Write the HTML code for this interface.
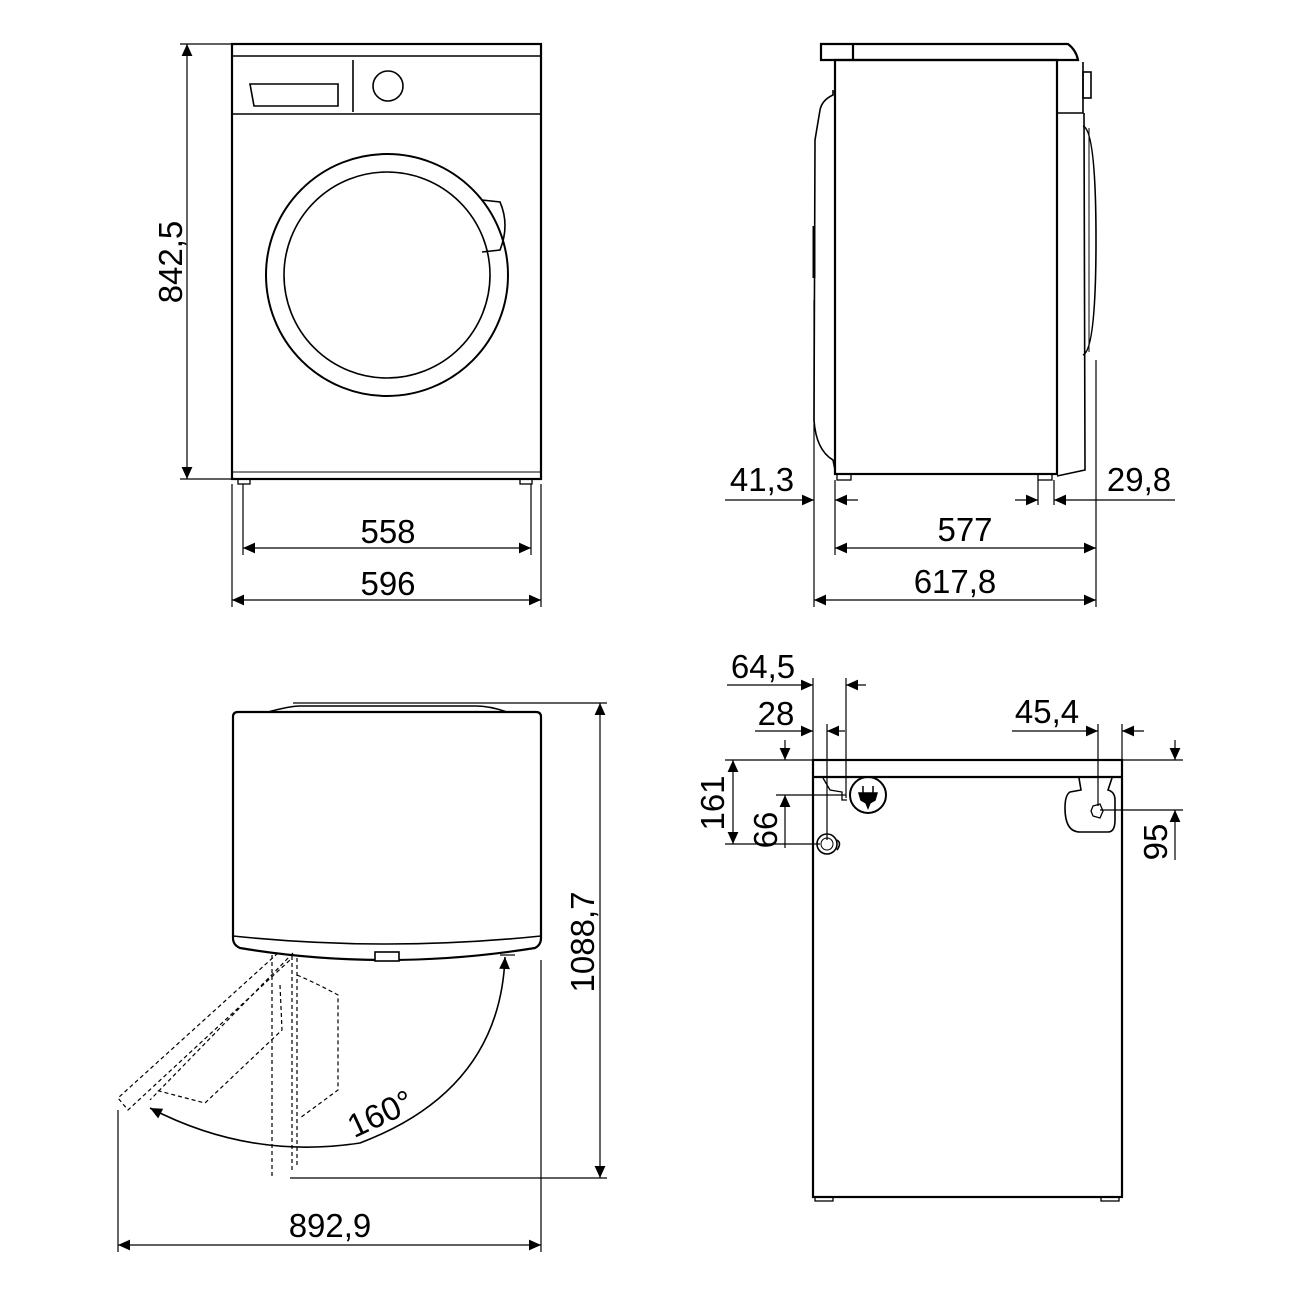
<!DOCTYPE html>
<html><head><meta charset="utf-8"><style>html,body{margin:0;padding:0;background:#fff}svg{display:block}</style></head><body>
<svg width="1300" height="1300" viewBox="0 0 1300 1300" xmlns="http://www.w3.org/2000/svg" font-family="Liberation Sans, sans-serif">
<defs>
<marker id="a" viewBox="0 0 10 10" refX="10" refY="5" markerWidth="20" markerHeight="12" markerUnits="userSpaceOnUse" orient="auto-start-reverse"><path d="M0,0.5 L10,5 L0,9.5 Z" fill="#000"/></marker>
</defs>
<g fill="none" stroke="#000" stroke-width="2.2">
<!-- FRONT VIEW -->
<rect x="232" y="44" width="309" height="435"/>
<line x1="232" y1="56" x2="541" y2="56" stroke-width="1.4"/>
<line x1="232" y1="114" x2="541" y2="114" stroke-width="1.6"/>
<line x1="353" y1="60" x2="353" y2="112" stroke-width="1.6"/>
<path d="M250 84 L338 84 L338 106 L254 106 Z" stroke-width="1.6"/>
<circle cx="388" cy="86" r="15" stroke-width="1.6"/>
<circle cx="387" cy="275" r="121" stroke-width="2"/>
<circle cx="387" cy="275" r="103" stroke-width="1.6"/>
<path d="M482 200 L500 202 Q510 225 500 250 L482 252" stroke-width="1.6"/>
<line x1="232" y1="472" x2="541" y2="472" stroke-width="1"/>
<rect x="238" y="479" width="12" height="5" stroke-width="1.3"/>
<rect x="520" y="479" width="12" height="5" stroke-width="1.3"/>
</g>
<g stroke="#000" stroke-width="1.2" fill="none">
<line x1="180" y1="44" x2="232" y2="44"/><line x1="180" y1="479" x2="232" y2="479"/>
<line x1="232" y1="484" x2="232" y2="607"/><line x1="541" y1="484" x2="541" y2="607"/>
<line x1="243" y1="484" x2="243" y2="555"/><line x1="531" y1="484" x2="531" y2="555"/>
<line x1="187" y1="44" x2="187" y2="479" marker-start="url(#a)" marker-end="url(#a)"/>
<line x1="243" y1="548" x2="531" y2="548" marker-start="url(#a)" marker-end="url(#a)"/>
<line x1="232" y1="600" x2="541" y2="600" marker-start="url(#a)" marker-end="url(#a)"/>
</g>
<g font-size="33" fill="#000">
<text x="388" y="543" text-anchor="middle">558</text>
<text x="388" y="595" text-anchor="middle">596</text>
<text transform="translate(182,262) rotate(-90)" text-anchor="middle">842,5</text>
</g>

<!-- SIDE VIEW -->
<g fill="none" stroke="#000" stroke-width="2.2">
<path d="M821 44 L1068 44 Q1076 50 1078 60 L821 60 Z"/>
<line x1="853" y1="44" x2="853" y2="60"/>
<rect x="835" y="60" width="222" height="414"/>
<path d="M1057 113 L1083 113 L1083 62" stroke-width="1.6"/>
<rect x="1083" y="72" width="8" height="26" stroke-width="1.6"/>
<path d="M1083 126 Q1096 130 1096 240 Q1096 350 1083 355" stroke-width="1.6"/>
<line x1="1089" y1="128" x2="1089" y2="352" stroke-width="1"/>
<path d="M1084 113 L1085 470 L1057 476" stroke-width="1.6"/>
<path d="M833 90 L833 95 Q822 100 820 110 L815 140 L814 420 Q816 450 833 460 L835 470" stroke-width="1.6"/>
<line x1="814" y1="226" x2="814" y2="278" stroke-width="3"/>
<rect x="837" y="474" width="14" height="6" stroke-width="1.3"/>
<rect x="1038" y="474" width="14" height="6" stroke-width="1.3"/>
</g>
<g stroke="#000" stroke-width="1.2" fill="none">
<line x1="814" y1="300" x2="814" y2="607"/>
<line x1="835" y1="480" x2="835" y2="555"/>
<line x1="1038" y1="480" x2="1038" y2="505"/>
<line x1="1054" y1="480" x2="1054" y2="505"/>
<line x1="1096" y1="360" x2="1096" y2="607"/>
<line x1="725" y1="500" x2="814" y2="500" marker-end="url(#a)"/>
<line x1="835" y1="500" x2="858" y2="500" marker-start="url(#a)"/>
<line x1="1015" y1="500" x2="1038" y2="500" marker-end="url(#a)"/>
<line x1="1054" y1="500" x2="1175" y2="500" marker-start="url(#a)"/>
<line x1="835" y1="548" x2="1096" y2="548" marker-start="url(#a)" marker-end="url(#a)"/>
<line x1="814" y1="600" x2="1096" y2="600" marker-start="url(#a)" marker-end="url(#a)"/>
</g>
<g font-size="33" fill="#000">
<text x="762" y="491" text-anchor="middle">41,3</text>
<text x="1139" y="491" text-anchor="middle">29,8</text>
<text x="965" y="541" text-anchor="middle">577</text>
<text x="955" y="593" text-anchor="middle">617,8</text>
</g>

<!-- TOP VIEW -->
<g fill="none" stroke="#000" stroke-width="2.2">
<path d="M238 712 L536 712 Q541 712 541 717 L541 938 Q541 945 535 948 Q460 960 387 960 Q312 960 240 948 Q233 945 233 938 L233 717 Q233 712 238 712 Z"/>
<path d="M233 936 Q387 952 541 936" stroke-width="1.6"/>
<path d="M268 712 Q290 706 300 706 L476 706 Q490 706 507 712" stroke-width="1.6"/>
<rect x="375" y="952" width="24" height="9" stroke-width="1.6" fill="#fff"/>
</g>
<g fill="none" stroke="#000" stroke-width="1.2" stroke-dasharray="4,3">
<path d="M278 953 L118 1098 L128 1110 L290 960"/>
<path d="M293 953 L150 1100"/>
<path d="M272 955 L272 1178 M292 956 L292 1172 M297 958 L297 1165"/>
<path d="M297 975 Q320 985 338 995 L338 1090 L300 1118"/>
<path d="M280 985 L282 1030 L205 1103 L155 1090"/>
</g>
<g stroke="#000" stroke-width="1.2" fill="none">
<line x1="293" y1="703" x2="607" y2="703"/>
<line x1="290" y1="1178" x2="607" y2="1178"/>
<line x1="600" y1="703" x2="600" y2="1178" marker-start="url(#a)" marker-end="url(#a)"/>
<line x1="118" y1="1110" x2="118" y2="1252"/>
<line x1="541" y1="960" x2="541" y2="1252"/>
<line x1="118" y1="1245" x2="541" y2="1245" marker-start="url(#a)" marker-end="url(#a)"/>
<line x1="500" y1="955" x2="515" y2="955"/>
<path d="M505 957 Q500 1090 360 1143 Q250 1160 150 1108" stroke-width="1.6" marker-start="url(#a)" marker-end="url(#a)"/>
</g>
<g font-size="33" fill="#000">
<text transform="translate(385,1124) rotate(-25)" text-anchor="middle">160°</text>
<text transform="translate(594,942) rotate(-90)" text-anchor="middle">1088,7</text>
<text x="330" y="1237" text-anchor="middle">892,9</text>
</g>

<!-- BACK VIEW -->
<g fill="none" stroke="#000" stroke-width="2.2">
<rect x="813" y="760" width="309" height="437"/>
<line x1="813" y1="777" x2="1122" y2="777"/>
<path d="M823 778 L830 790 L842 792 L842 800 L847 800" stroke-width="1.3"/>
<circle cx="868" cy="795" r="18" stroke-width="2"/>
<path d="M863 786 L863 793 M873 786 L873 793 M859 793 L877 793 L875 800 L870 803 L868 808 L866 803 L861 800 Z" fill="#000" stroke-width="1.5"/>
<circle cx="827" cy="844" r="10" stroke-width="1.6"/>
<path d="M837 840 Q842 843 837 850" stroke-width="1.6"/>
<circle cx="827" cy="844" r="6" stroke-width="1"/>
<path d="M1079 778 L1081 790 L1070 792 Q1065 795 1065 808 Q1065 832 1080 832 L1108 832 Q1115 832 1115 820 L1115 800 Q1115 792 1108 790 L1112 778" stroke-width="1.6"/>
<path d="M1093 806 L1100 804 L1103 811 L1100 818 L1093 816 L1091 811 Z" stroke-width="1.3"/>
<rect x="815" y="1197" width="18" height="4" stroke-width="1.3"/>
<rect x="1101" y="1197" width="18" height="4" stroke-width="1.3"/>
</g>
<g stroke="#000" stroke-width="1.2" fill="none">
<line x1="813" y1="678" x2="813" y2="760"/>
<line x1="846" y1="678" x2="846" y2="798"/>
<line x1="827" y1="724" x2="827" y2="840"/>
<line x1="727" y1="685" x2="813" y2="685" marker-end="url(#a)"/>
<line x1="846" y1="685" x2="866" y2="685" marker-start="url(#a)"/>
<line x1="755" y1="731" x2="813" y2="731" marker-end="url(#a)"/>
<line x1="827" y1="731" x2="845" y2="731" marker-start="url(#a)"/>
<line x1="725" y1="760" x2="813" y2="760"/>
<line x1="776" y1="795" x2="846" y2="795"/>
<line x1="725" y1="844" x2="820" y2="844"/>
<line x1="733" y1="760" x2="733" y2="844" marker-start="url(#a)" marker-end="url(#a)"/>
<line x1="785" y1="740" x2="785" y2="760" marker-end="url(#a)"/>
<line x1="785" y1="795" x2="785" y2="848" marker-start="url(#a)"/>
<line x1="1098" y1="724" x2="1098" y2="806"/>
<line x1="1122" y1="724" x2="1122" y2="760"/>
<line x1="1012" y1="731" x2="1098" y2="731" marker-end="url(#a)"/>
<line x1="1122" y1="731" x2="1144" y2="731" marker-start="url(#a)"/>
<line x1="1122" y1="760" x2="1183" y2="760"/>
<line x1="1100" y1="810" x2="1183" y2="810"/>
<line x1="1175" y1="740" x2="1175" y2="760" marker-end="url(#a)"/>
<line x1="1175" y1="810" x2="1175" y2="860" marker-start="url(#a)"/>
</g>
<g font-size="33" fill="#000">
<text x="763" y="678" text-anchor="middle">64,5</text>
<text x="776" y="725" text-anchor="middle">28</text>
<text x="1047" y="723" text-anchor="middle">45,4</text>
<text transform="translate(724,803) rotate(-90)" text-anchor="middle">161</text>
<text transform="translate(777,830) rotate(-90)" text-anchor="middle">66</text>
<text transform="translate(1167,842) rotate(-90)" text-anchor="middle">95</text>
</g>
</svg>
</body></html>
